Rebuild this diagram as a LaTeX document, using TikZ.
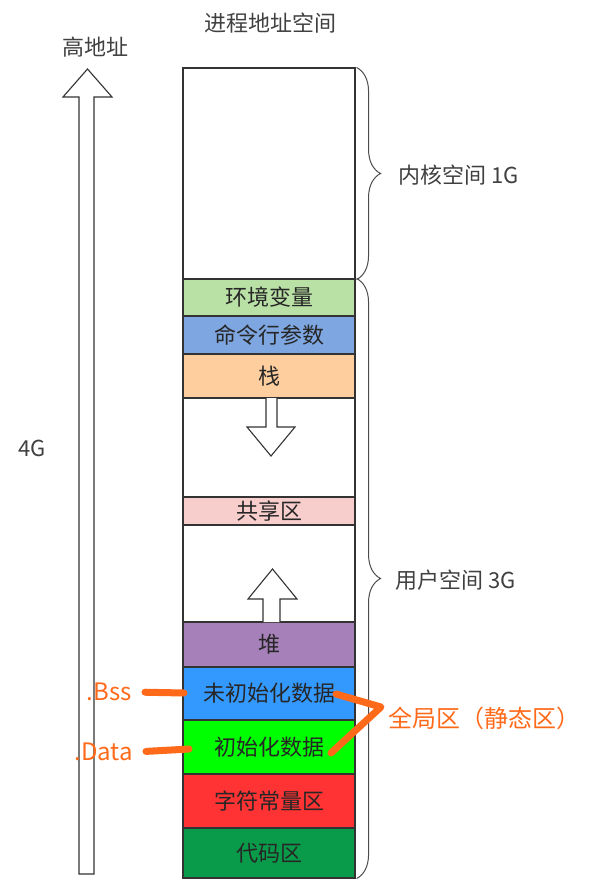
\documentclass[tikz,border=0pt]{standalone}
\usepackage{fontspec}
\usepackage{xcolor}
\usepackage{tikz}
\usetikzlibrary{positioning,calc,decorations.pathreplacing}
\newfontfamily\cjk{Noto Sans CJK SC}
\definecolor{envc}{HTML}{B9E0A5}
\definecolor{cmdc}{HTML}{7EA6E0}
\definecolor{stkc}{HTML}{FFCE9F}
\definecolor{shrc}{HTML}{F8CECC}
\definecolor{heapc}{HTML}{A680B8}
\definecolor{bssc}{HTML}{3399FF}
\definecolor{datac}{HTML}{00FF00}
\definecolor{constc}{HTML}{FF3333}
\definecolor{codec}{HTML}{0A9B4A}
\definecolor{anno}{HTML}{FF6A1A}

\begin{document}
\begin{tikzpicture}[x=1pt,y=-1pt,font=\cjk\fontsize{22}{26}\selectfont,
  blk/.style={draw=black!80,line width=1.1pt,minimum width=172pt,inner sep=0pt,text=black!85},
  hollow/.style={draw=black!80,line width=1.1pt,fill=white},
  brc/.style={draw=black!70,line width=1pt,decorate,decoration={brace,amplitude=24pt}},
  txt/.style={text=black!75,inner sep=2pt},
  ann/.style={text=anno,font=\cjk\fontsize{24}{28}\selectfont,inner sep=2pt},
  orng/.style={draw=anno,line width=7pt,line cap=round,line join=round}]
  \useasboundingbox (0,0) rectangle (609,887);
  % titles
  \node[txt] (title) at (270,23) {进程地址空间};
  \node[txt] (high) at (95,47) {高地址};
  \node[txt] (four) at (32,448) {4G};
  % big address arrow on the left
  \draw[hollow] (79,874) -- (79,97) -- (63,97) -- (87.5,69) -- (112,97) -- (94,97) -- (94,874) -- cycle;
  % the address space column, top to bottom
  \node[blk,fill=white,minimum height=810pt] (col) at (269,473) {};
  \node[blk,minimum height=211pt] (kern) at (269,173.5) {};
  \node[blk,fill=envc,minimum height=37pt] (env) at (269,297.5) {环境变量};
  \node[blk,fill=cmdc,minimum height=38pt] (cmd) at (269,335) {命令行参数};
  \node[blk,fill=stkc,minimum height=44pt] (stack) at (269,376) {栈};
  \node[blk,fill=shrc,minimum height=28pt] (share) at (269,511) {共享区};
  \node[blk,fill=heapc,minimum height=45pt] (heap) at (269,644.5) {堆};
  \node[blk,fill=bssc,minimum height=53pt] (bss) at (269,693.5) {未初始化数据};
  \node[blk,fill=datac,minimum height=54pt] (data) at (269,747) {初始化数据};
  \node[blk,fill=constc,minimum height=54pt] (const) at (269,801) {字符常量区};
  \node[blk,fill=codec,minimum height=50pt] (code) at (269,853) {代码区};
  % growth arrows of stack and heap
  \draw[hollow] (266,398) -- (266,427) -- (247,427) -- (271,456) -- (295,427) -- (277,427) -- (277,398);
  \draw[hollow] (263,622) -- (263,599) -- (248,599) -- (272.5,569) -- (297,599) -- (280,599) -- (280,622);
  % braces for kernel and user space
  \draw[brc] ([xshift=1pt]kern.north east) -- ([xshift=1pt]kern.south east);
  \draw[brc] ([xshift=1pt]env.north east) -- ([xshift=1pt]code.south east);
  \node[txt,anchor=west] (kernlbl) at (396,175) {内核空间 1G};
  \node[txt,anchor=west] (userlbl) at (393,580) {用户空间 3G};
  % orange notes for the global area
  \node[ann,anchor=east] (bsslbl) at (134,692) {.Bss};
  \node[ann,anchor=east] (datalbl) at (135,752) {.Data};
  \node[ann,anchor=west] (glob) at (386,718) {全局区（静态区）};
  \coordinate (bssin) at (184,693);
  \coordinate (datain) at (189,749);
  \coordinate (bssout) at (336,694);
  \coordinate (dataout) at (331,753);
  \coordinate (gjoin) at (381,707);
  \draw[orng,shorten <=11pt] (bsslbl.east) -- (bssin);
  \draw[orng,shorten <=11pt] (datalbl.east) -- (datain);
  \draw[orng] (bssout) -- (gjoin) -- (dataout);
\end{tikzpicture}
\end{document}
